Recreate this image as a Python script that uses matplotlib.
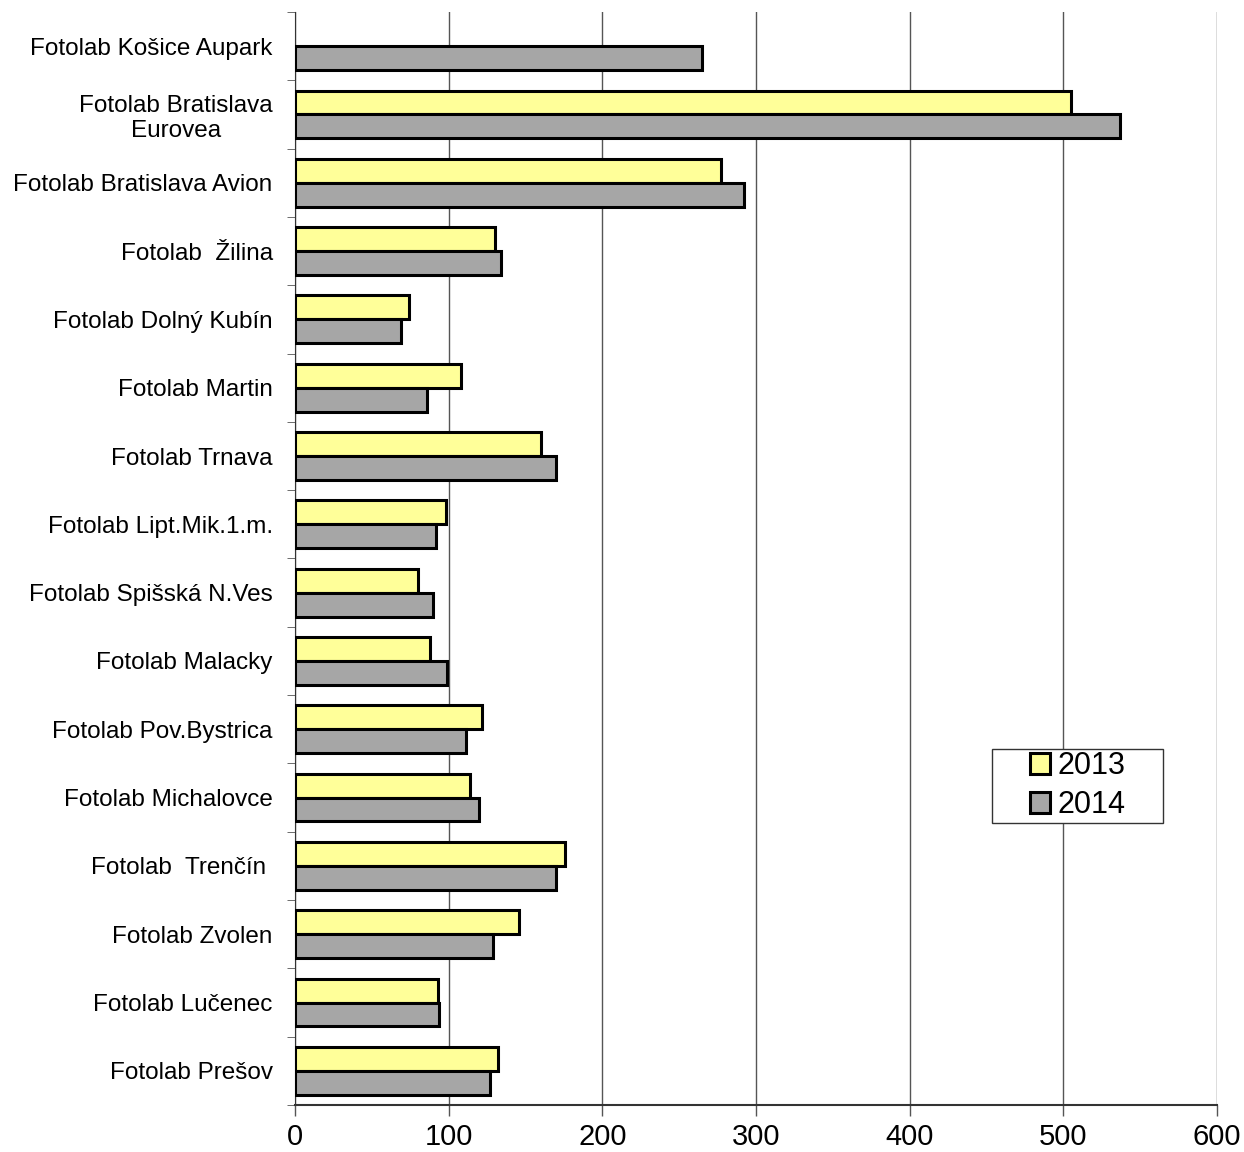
import matplotlib.pyplot as plt
from matplotlib.patches import Rectangle
import numpy as np

plt.rcParams['font.family'] = ['Liberation Sans', 'DejaVu Sans']

stores = ['Fotolab Košice Aupark', 'Fotolab Bratislava\nEurovea', 'Fotolab Bratislava Avion',
          'Fotolab  Žilina', 'Fotolab Dolný Kubín', 'Fotolab Martin', 'Fotolab Trnava',
          'Fotolab Lipt.Mik.1.m.', 'Fotolab Spišská N.Ves', 'Fotolab Malacky',
          'Fotolab Pov.Bystrica', 'Fotolab Michalovce', 'Fotolab  Trenčín ',
          'Fotolab Zvolen', 'Fotolab Lučenec', 'Fotolab Prešov']
v2013 = [np.nan, 505, 277, 130, 74, 108, 160, 98, 80, 88, 122, 114, 176, 146, 93, 132]
v2014 = [265, 537, 292, 134, 69, 86, 170, 92, 90, 99, 111, 120, 170, 129, 94, 127]

fig = plt.figure(figsize=(12.44, 11.52), dpi=100)
ax = fig.add_axes([0.2371, 0.0408, 0.7412, 0.9488])

y = np.arange(len(stores))
h = 0.35
ax.barh(y - h / 2, v2013, height=h, color='#ffff99', edgecolor='black', linewidth=2.2, label='2013', zorder=3)
ax.barh(y + h / 2, v2014, height=h, color='#a6a6a6', edgecolor='black', linewidth=2.2, label='2014', zorder=3)

ax.set_ylim(len(stores) - 0.5, -0.5)
ax.set_xlim(0, 600)
ax.set_xticks(range(0, 601, 100))
ax.tick_params(axis='x', labelsize=21, length=8, pad=5, direction='out', width=1, color='#555555')
ax.set_yticks(y)
ax.set_yticklabels(stores, fontsize=17.5, multialignment='center')
ax.tick_params(axis='y', which='major', length=0, pad=16)
ax.set_yticks(np.arange(-0.5, len(stores) + 0.5, 1), minor=True)
ax.tick_params(axis='y', which='minor', length=6, color='#555555')

ax.grid(axis='x', color='#555555', linewidth=1, zorder=0)
ax.spines['top'].set_visible(False)
ax.spines['right'].set_visible(False)
ax.spines['left'].set_color('#333333')
ax.spines['bottom'].set_color('#333333')
ax.spines['bottom'].set_linewidth(1.5)

# legend box drawn separately to get the wide side padding
ax.add_patch(Rectangle((0.756, 0.2581), 0.1855, 0.0677, transform=ax.transAxes,
                       facecolor='white', edgecolor='#333333', linewidth=1, zorder=5))
leg = ax.legend(loc='center', bbox_to_anchor=(0.8488, 0.2920), fontsize=22, frameon=False,
                handlelength=0.65, handleheight=0.65, handletextpad=0.25, borderpad=0,
                labelspacing=0.3)
leg.set_zorder(6)
for p in leg.get_patches():
    p.set_linewidth(2.2)

fig.savefig('out.png', dpi=100)
